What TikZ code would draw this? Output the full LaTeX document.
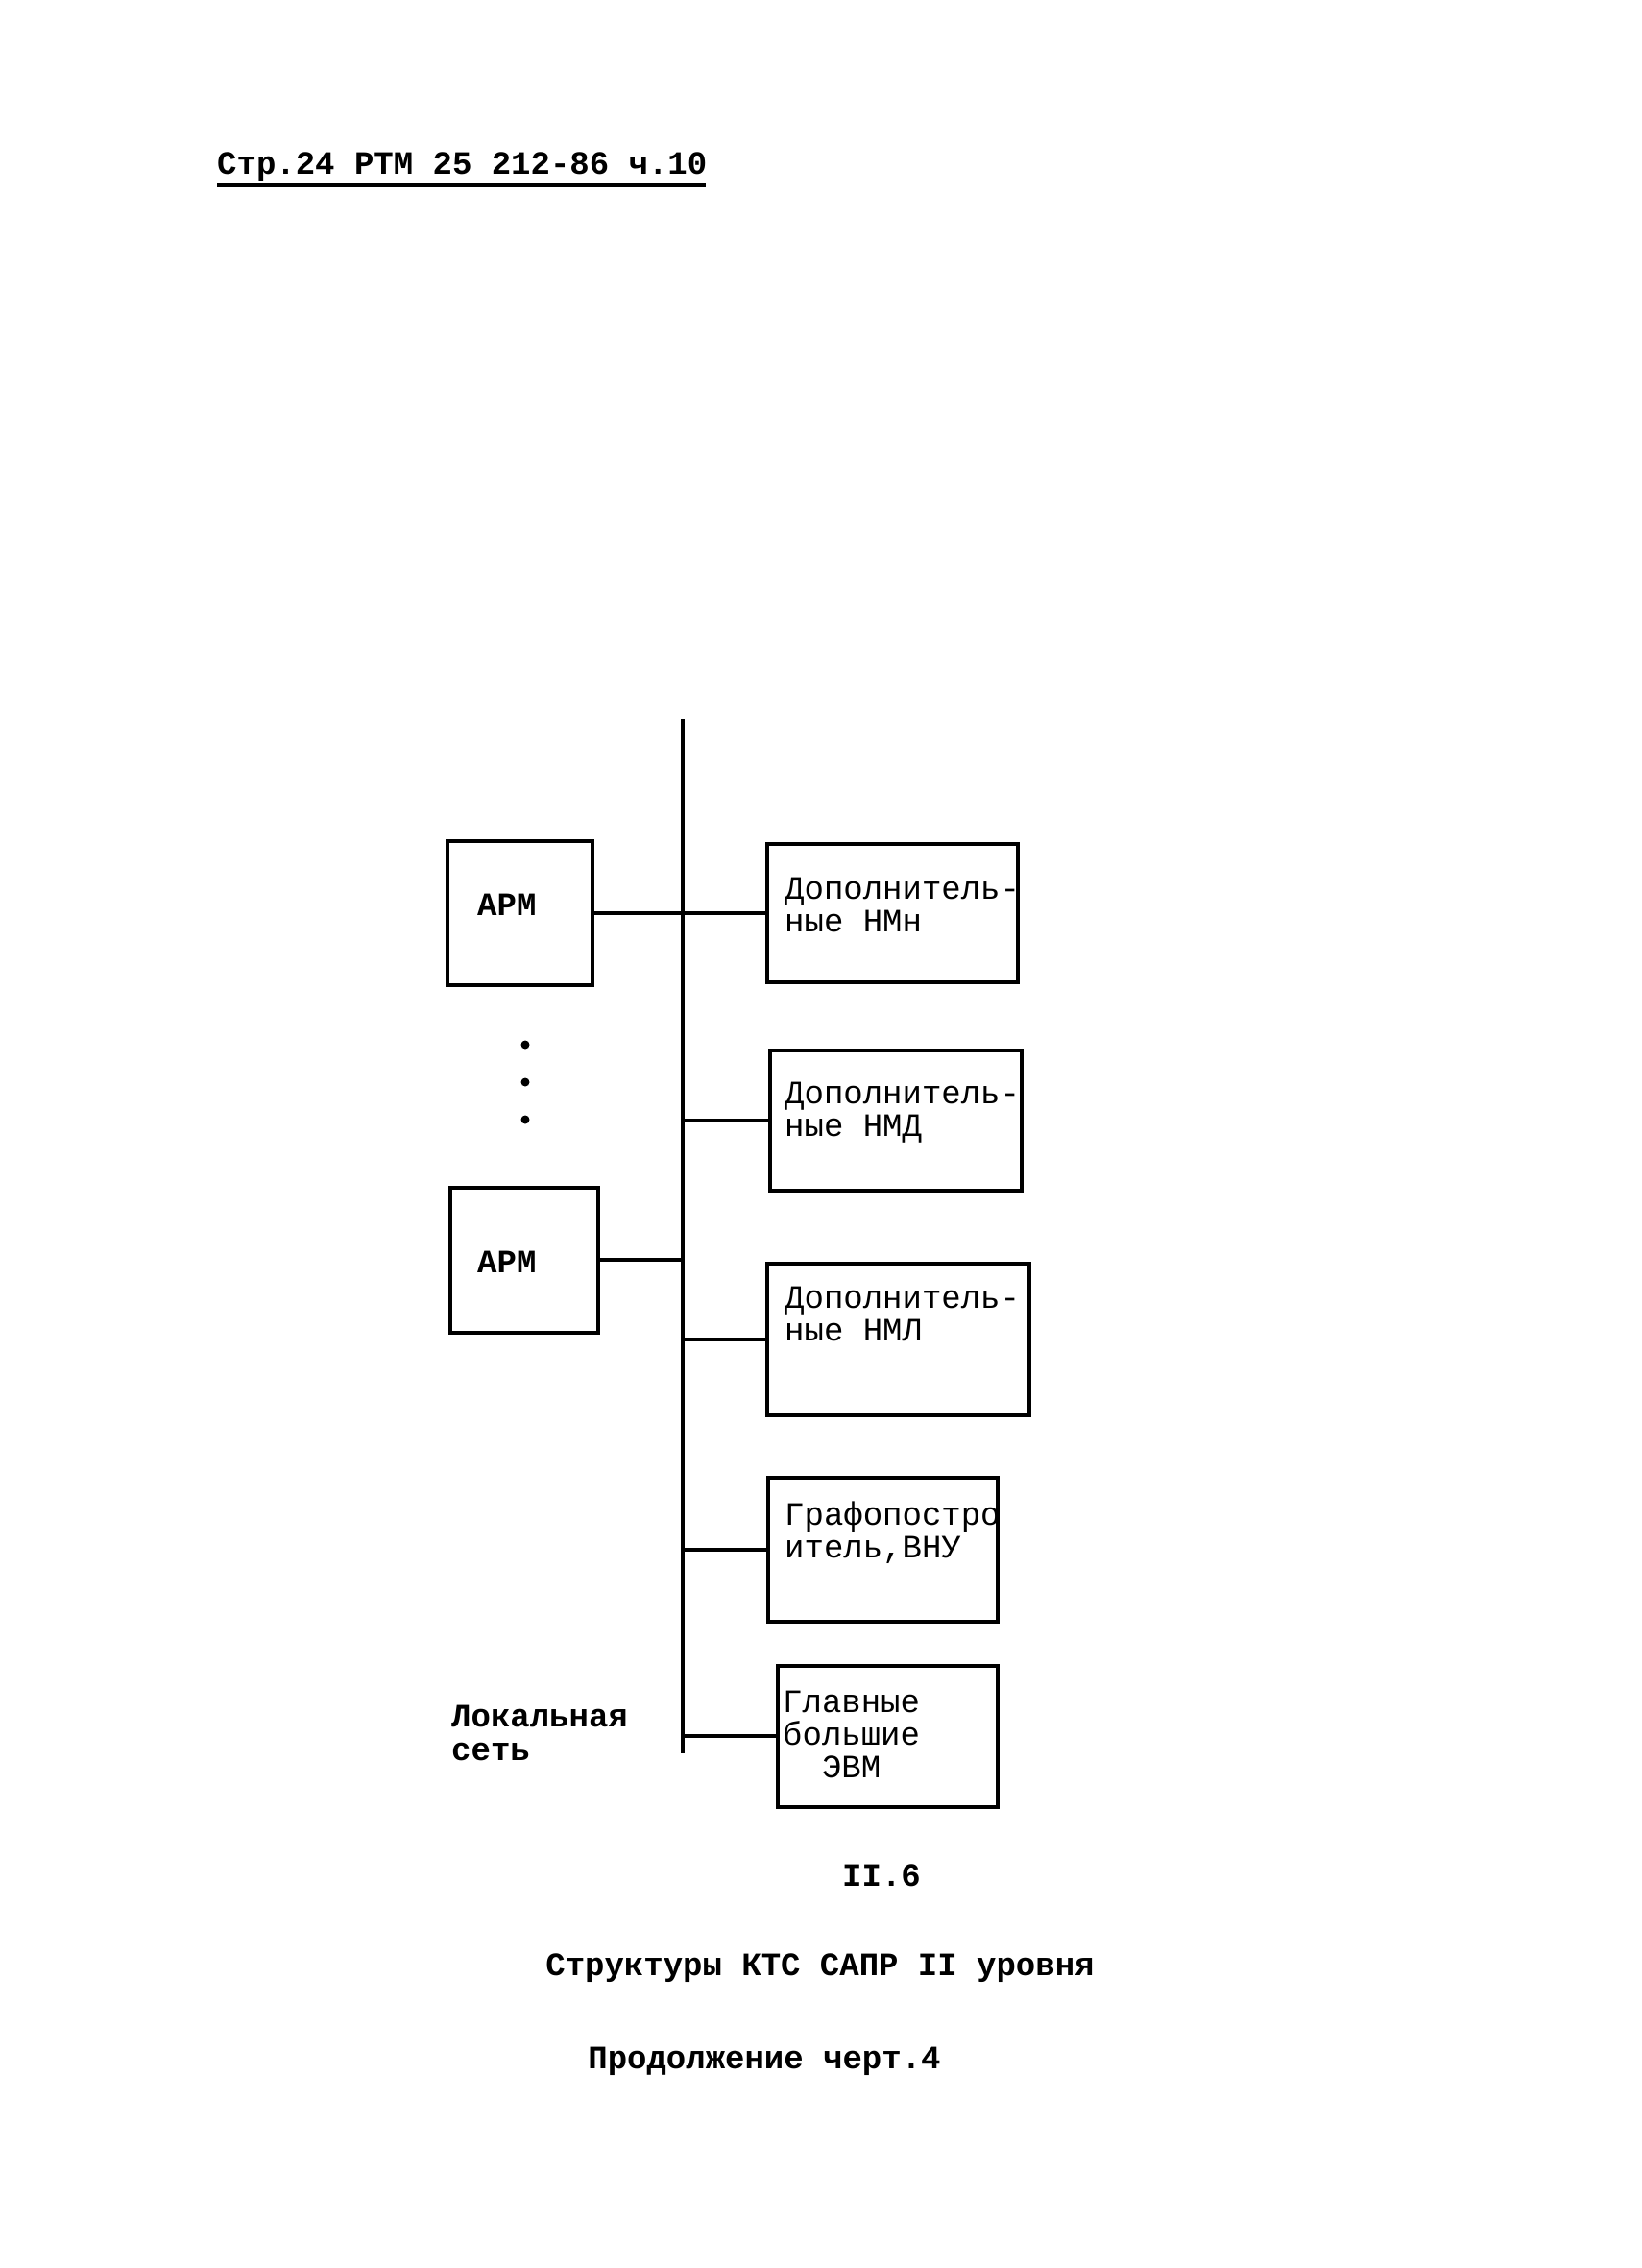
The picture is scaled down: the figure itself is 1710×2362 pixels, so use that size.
\documentclass[tikz,border=0pt]{standalone}
\usepackage{fontspec}
\setmainfont{Liberation Mono}
\begin{document}
\begin{tikzpicture}[x=1pt,y=-1pt,
  box/.style={draw, line width=3.8pt, rectangle, inner sep=0pt, anchor=north west},
  lbl/.style={font=\fontsize{34}{34}\selectfont, align=left, inner sep=0pt, anchor=north west},
  bold/.style={font=\fontsize{34}{35}\selectfont\bfseries, inner sep=0pt},
  wire/.style={line width=4pt},
  bus/.style={line width=4.8pt}]
\path[use as bounding box, fill=white] (0,0) rectangle (1710,2362);

% header
\node[bold, anchor=west] (hdr) at (226,174) {Стр.24 РТМ 25 212-86 ч.10};
\draw[line width=3.5pt] (226,193) -- (735,193);

% bus
\coordinate (bt) at (711,749);
\coordinate (bb) at (711,1826);
\draw[bus] (bt) -- (bb);

% left boxes
\node[box, minimum width=151pt, minimum height=150pt] (a1) at (464,874) {};
\node[bold, anchor=west] (a1t) at (497,942) {АРМ};
\node[box, minimum width=154pt, minimum height=151pt] (a2) at (467,1235) {};
\node[bold, anchor=west] (a2t) at (497,1314) {АРМ};

% dots
\fill (547,1088) circle (4.5pt);
\fill (547,1127) circle (4.5pt);
\fill (547,1166) circle (4.5pt);

% right boxes
\node[box, minimum width=261pt, minimum height=144pt] (b1) at (797,877) {};
\node[lbl] (b1t) at (817,914) {Дополнитель-\\ные НМн};
\node[box, minimum width=262pt, minimum height=146pt] (b2) at (800,1092) {};
\node[lbl] (b2t) at (817,1127) {Дополнитель-\\ные НМД};
\node[box, minimum width=273pt, minimum height=158pt] (b3) at (797,1314) {};
\node[lbl] (b3t) at (817,1340) {Дополнитель-\\ные НМЛ};
\node[box, minimum width=239pt, minimum height=150pt] (b4) at (798,1537) {};
\node[lbl] (b4t) at (817,1564) {Графопостро\\итель,ВНУ};
\node[box, minimum width=229pt, minimum height=147pt] (b5) at (808,1733) {};
\node[lbl] (b5t) at (815,1761) {Главные\\большие\\\hspace*{1.2em}ЭВМ};

% connectors
\draw[wire] (a1.east) -- (b1.west);
\draw[wire] (a2.east) -- (a2.east -| bt);
\draw[wire] (b2.west) -- (b2.west -| bt);
\draw[wire] (b3.west) -- (b3.west -| bt);
\draw[wire] (b4.west) -- (b4.west -| bt);
\draw[wire] (b5.west) -- (b5.west -| bt);

% network label
\node[bold, anchor=north west, align=left] (net) at (470,1776) {Локальная\\сеть};

% captions
\node[bold] (fig) at (918,1953) {II.6};
\node[bold] (cap) at (854,2050) {Структуры КТС САПР II уровня};
\node[bold] (cont) at (796,2147) {Продолжение черт.4};
\end{tikzpicture}
\end{document}
